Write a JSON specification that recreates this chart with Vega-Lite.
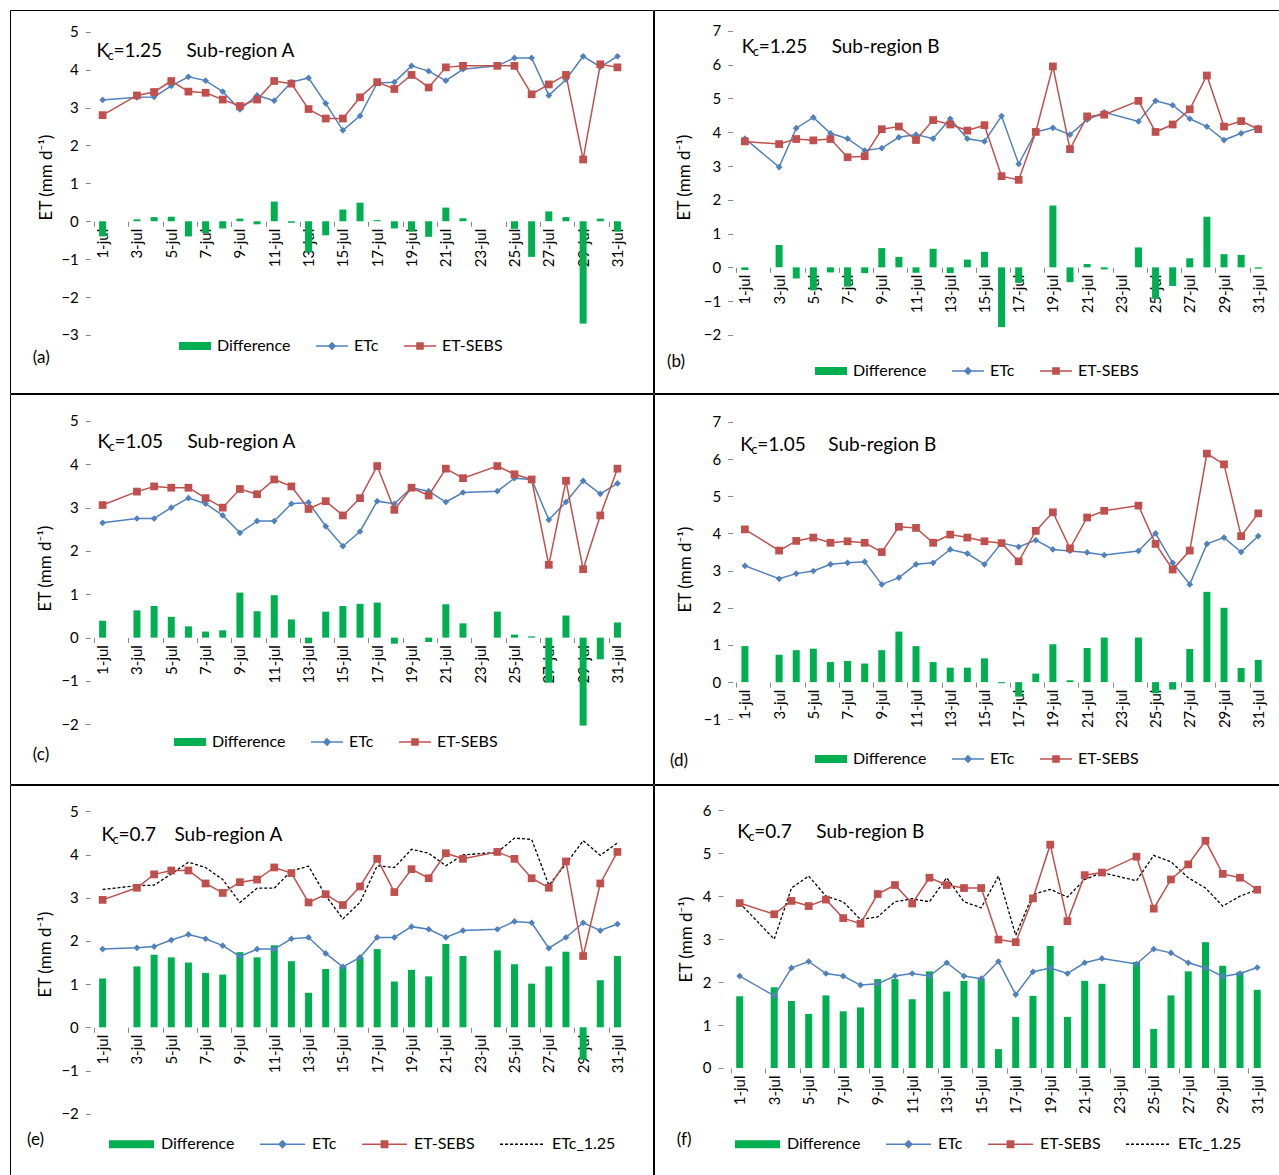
{
"$schema": "https://vega.github.io/schema/vega-lite/v6.json",
"padding": {"left": 9, "top": 9, "right": 0, "bottom": 0},
"background": "white",
"datasets": {
"a": [{"d":1,"etc":3.2,"sebs":2.8,"dif":-0.4},{"d":3,"etc":3.27,"sebs":3.32,"dif":0.05},{"d":4,"etc":3.28,"sebs":3.41,"dif":0.11},{"d":5,"etc":3.57,"sebs":3.7,"dif":0.12},{"d":6,"etc":3.81,"sebs":3.42,"dif":-0.4},{"d":7,"etc":3.71,"sebs":3.39,"dif":-0.31},{"d":8,"etc":3.42,"sebs":3.21,"dif":-0.19},{"d":9,"etc":2.95,"sebs":3.04,"dif":0.07},{"d":10,"etc":3.32,"sebs":3.21,"dif":-0.08},{"d":11,"etc":3.18,"sebs":3.7,"dif":0.52},{"d":12,"etc":3.67,"sebs":3.63,"dif":-0.04},{"d":13,"etc":3.78,"sebs":2.96,"dif":-0.82},{"d":14,"etc":3.11,"sebs":2.71,"dif":-0.37},{"d":15,"etc":2.4,"sebs":2.71,"dif":0.31},{"d":16,"etc":2.78,"sebs":3.27,"dif":0.49},{"d":17,"etc":3.65,"sebs":3.67,"dif":0.03},{"d":18,"etc":3.67,"sebs":3.49,"dif":-0.19},{"d":19,"etc":4.1,"sebs":3.86,"dif":-0.27},{"d":20,"etc":3.96,"sebs":3.53,"dif":-0.41},{"d":21,"etc":3.71,"sebs":4.06,"dif":0.36},{"d":22,"etc":4.01,"sebs":4.1,"dif":0.08},{"d":24,"etc":4.1,"sebs":4.1,"dif":0},{"d":25,"etc":4.31,"sebs":4.1,"dif":-0.2},{"d":26,"etc":4.31,"sebs":3.35,"dif":-0.94},{"d":27,"etc":3.32,"sebs":3.61,"dif":0.26},{"d":28,"etc":3.74,"sebs":3.86,"dif":0.11},{"d":29,"etc":4.35,"sebs":1.63,"dif":-2.7},{"d":30,"etc":4.07,"sebs":4.14,"dif":0.07},{"d":31,"etc":4.35,"sebs":4.06,"dif":-0.27}],
"b": [{"d":1,"etc":3.81,"sebs":3.73,"dif":-0.08},{"d":3,"etc":2.97,"sebs":3.65,"dif":0.66},{"d":4,"etc":4.12,"sebs":3.8,"dif":-0.33},{"d":5,"etc":4.44,"sebs":3.76,"dif":-0.68},{"d":6,"etc":3.97,"sebs":3.8,"dif":-0.15},{"d":7,"etc":3.81,"sebs":3.26,"dif":-0.57},{"d":8,"etc":3.46,"sebs":3.29,"dif":-0.17},{"d":9,"etc":3.53,"sebs":4.09,"dif":0.57},{"d":10,"etc":3.85,"sebs":4.17,"dif":0.31},{"d":11,"etc":3.93,"sebs":3.77,"dif":-0.16},{"d":12,"etc":3.81,"sebs":4.36,"dif":0.55},{"d":13,"etc":4.4,"sebs":4.23,"dif":-0.17},{"d":14,"etc":3.81,"sebs":4.05,"dif":0.23},{"d":15,"etc":3.73,"sebs":4.21,"dif":0.46},{"d":16,"etc":4.48,"sebs":2.7,"dif":-1.77},{"d":17,"etc":3.06,"sebs":2.59,"dif":-0.46},{"d":18,"etc":4.01,"sebs":4.01,"dif":0},{"d":19,"etc":4.13,"sebs":5.95,"dif":1.83},{"d":20,"etc":3.93,"sebs":3.5,"dif":-0.44},{"d":21,"etc":4.37,"sebs":4.47,"dif":0.1},{"d":22,"etc":4.59,"sebs":4.52,"dif":-0.06},{"d":24,"etc":4.32,"sebs":4.93,"dif":0.59},{"d":25,"etc":4.93,"sebs":4.01,"dif":-0.93},{"d":26,"etc":4.8,"sebs":4.23,"dif":-0.55},{"d":27,"etc":4.4,"sebs":4.68,"dif":0.27},{"d":28,"etc":4.17,"sebs":5.68,"dif":1.5},{"d":29,"etc":3.77,"sebs":4.17,"dif":0.39},{"d":30,"etc":3.97,"sebs":4.33,"dif":0.37},{"d":31,"etc":4.13,"sebs":4.09,"dif":-0.04}],
"c": [{"d":1,"etc":2.65,"sebs":3.06,"dif":0.39},{"d":3,"etc":2.75,"sebs":3.37,"dif":0.63},{"d":4,"etc":2.75,"sebs":3.49,"dif":0.73},{"d":5,"etc":3.0,"sebs":3.46,"dif":0.48},{"d":6,"etc":3.22,"sebs":3.46,"dif":0.26},{"d":7,"etc":3.09,"sebs":3.22,"dif":0.14},{"d":8,"etc":2.82,"sebs":3.0,"dif":0.17},{"d":9,"etc":2.42,"sebs":3.43,"dif":1.04},{"d":10,"etc":2.69,"sebs":3.31,"dif":0.61},{"d":11,"etc":2.69,"sebs":3.65,"dif":0.98},{"d":12,"etc":3.09,"sebs":3.49,"dif":0.42},{"d":13,"etc":3.12,"sebs":2.97,"dif":-0.13},{"d":14,"etc":2.57,"sebs":3.15,"dif":0.6},{"d":15,"etc":2.11,"sebs":2.82,"dif":0.73},{"d":16,"etc":2.45,"sebs":3.22,"dif":0.78},{"d":17,"etc":3.15,"sebs":3.96,"dif":0.81},{"d":18,"etc":3.09,"sebs":2.95,"dif":-0.14},{"d":19,"etc":3.46,"sebs":3.46,"dif":0},{"d":20,"etc":3.38,"sebs":3.28,"dif":-0.1},{"d":21,"etc":3.13,"sebs":3.9,"dif":0.77},{"d":22,"etc":3.35,"sebs":3.68,"dif":0.33},{"d":24,"etc":3.38,"sebs":3.96,"dif":0.6},{"d":25,"etc":3.68,"sebs":3.77,"dif":0.07},{"d":26,"etc":3.65,"sebs":3.65,"dif":0.03},{"d":27,"etc":2.72,"sebs":1.68,"dif":-1.04},{"d":28,"etc":3.13,"sebs":3.62,"dif":0.51},{"d":29,"etc":3.62,"sebs":1.58,"dif":-2.03},{"d":30,"etc":3.32,"sebs":2.82,"dif":-0.5},{"d":31,"etc":3.56,"sebs":3.9,"dif":0.35}],
"dd": [{"d":1,"etc":3.13,"sebs":4.11,"dif":0.97},{"d":3,"etc":2.78,"sebs":3.54,"dif":0.74},{"d":4,"etc":2.92,"sebs":3.8,"dif":0.86},{"d":5,"etc":2.99,"sebs":3.89,"dif":0.9},{"d":6,"etc":3.17,"sebs":3.75,"dif":0.54},{"d":7,"etc":3.21,"sebs":3.79,"dif":0.57},{"d":8,"etc":3.24,"sebs":3.75,"dif":0.5},{"d":9,"etc":2.63,"sebs":3.5,"dif":0.86},{"d":10,"etc":2.81,"sebs":4.18,"dif":1.36},{"d":11,"etc":3.17,"sebs":4.15,"dif":0.97},{"d":12,"etc":3.21,"sebs":3.75,"dif":0.54},{"d":13,"etc":3.57,"sebs":3.97,"dif":0.39},{"d":14,"etc":3.46,"sebs":3.89,"dif":0.39},{"d":15,"etc":3.17,"sebs":3.79,"dif":0.64},{"d":16,"etc":3.74,"sebs":3.74,"dif":-0.03},{"d":17,"etc":3.64,"sebs":3.25,"dif":-0.39},{"d":18,"etc":3.82,"sebs":4.07,"dif":0.23},{"d":19,"etc":3.57,"sebs":4.57,"dif":1.02},{"d":20,"etc":3.53,"sebs":3.6,"dif":0.05},{"d":21,"etc":3.49,"sebs":4.43,"dif":0.92},{"d":22,"etc":3.42,"sebs":4.61,"dif":1.2},{"d":24,"etc":3.53,"sebs":4.75,"dif":1.2},{"d":25,"etc":4.0,"sebs":3.72,"dif":-0.3},{"d":26,"etc":3.21,"sebs":3.03,"dif":-0.2},{"d":27,"etc":2.63,"sebs":3.54,"dif":0.89},{"d":28,"etc":3.72,"sebs":6.15,"dif":2.43},{"d":29,"etc":3.89,"sebs":5.86,"dif":2.0},{"d":30,"etc":3.5,"sebs":3.93,"dif":0.38},{"d":31,"etc":3.93,"sebs":4.54,"dif":0.6}],
"e": [{"d":1,"etc":1.81,"sebs":2.95,"dif":1.13,"k":3.19},{"d":3,"etc":1.84,"sebs":3.23,"dif":1.41,"k":3.28},{"d":4,"etc":1.87,"sebs":3.54,"dif":1.68,"k":3.29},{"d":5,"etc":2.02,"sebs":3.63,"dif":1.62,"k":3.55},{"d":6,"etc":2.15,"sebs":3.63,"dif":1.5,"k":3.82},{"d":7,"etc":2.05,"sebs":3.33,"dif":1.26,"k":3.7},{"d":8,"etc":1.89,"sebs":3.11,"dif":1.22,"k":3.42},{"d":9,"etc":1.64,"sebs":3.36,"dif":1.74,"k":2.89},{"d":10,"etc":1.81,"sebs":3.42,"dif":1.62,"k":3.22},{"d":11,"etc":1.81,"sebs":3.7,"dif":1.9,"k":3.22},{"d":12,"etc":2.05,"sebs":3.57,"dif":1.53,"k":3.62},{"d":13,"etc":2.08,"sebs":2.89,"dif":0.8,"k":3.73},{"d":14,"etc":1.71,"sebs":3.08,"dif":1.35,"k":3.05},{"d":15,"etc":1.4,"sebs":2.83,"dif":1.41,"k":2.51},{"d":16,"etc":1.62,"sebs":3.26,"dif":1.62,"k":2.89},{"d":17,"etc":2.08,"sebs":3.9,"dif":1.81,"k":3.74},{"d":18,"etc":2.08,"sebs":3.13,"dif":1.06,"k":3.7},{"d":19,"etc":2.33,"sebs":3.66,"dif":1.33,"k":4.12},{"d":20,"etc":2.27,"sebs":3.45,"dif":1.18,"k":4.03},{"d":21,"etc":2.08,"sebs":4.03,"dif":1.93,"k":3.74},{"d":22,"etc":2.24,"sebs":3.9,"dif":1.65,"k":3.99},{"d":24,"etc":2.27,"sebs":4.06,"dif":1.78,"k":4.05},{"d":25,"etc":2.45,"sebs":3.9,"dif":1.46,"k":4.38},{"d":26,"etc":2.42,"sebs":3.45,"dif":1.01,"k":4.35},{"d":27,"etc":1.83,"sebs":3.23,"dif":1.41,"k":3.29},{"d":28,"etc":2.08,"sebs":3.84,"dif":1.75,"k":3.78},{"d":29,"etc":2.42,"sebs":1.65,"dif":-0.75,"k":4.32},{"d":30,"etc":2.24,"sebs":3.33,"dif":1.09,"k":3.98},{"d":31,"etc":2.39,"sebs":4.06,"dif":1.65,"k":4.27}],
"f": [{"d":1,"etc":2.14,"sebs":3.84,"dif":1.67,"k":3.84},{"d":3,"etc":1.68,"sebs":3.58,"dif":1.88,"k":3.0},{"d":4,"etc":2.33,"sebs":3.89,"dif":1.56,"k":4.19},{"d":5,"etc":2.48,"sebs":3.77,"dif":1.26,"k":4.47},{"d":6,"etc":2.2,"sebs":3.92,"dif":1.69,"k":4.0},{"d":7,"etc":2.14,"sebs":3.49,"dif":1.32,"k":3.87},{"d":8,"etc":1.93,"sebs":3.36,"dif":1.41,"k":3.46},{"d":9,"etc":1.96,"sebs":4.05,"dif":2.07,"k":3.52},{"d":10,"etc":2.14,"sebs":4.26,"dif":2.07,"k":3.87},{"d":11,"etc":2.2,"sebs":3.83,"dif":1.6,"k":3.94},{"d":12,"etc":2.14,"sebs":4.43,"dif":2.25,"k":3.87},{"d":13,"etc":2.45,"sebs":4.26,"dif":1.78,"k":4.43},{"d":14,"etc":2.14,"sebs":4.19,"dif":2.03,"k":3.87},{"d":15,"etc":2.08,"sebs":4.19,"dif":2.09,"k":3.73},{"d":16,"etc":2.48,"sebs":2.99,"dif":0.44,"k":4.47},{"d":17,"etc":1.71,"sebs":2.93,"dif":1.19,"k":3.09},{"d":18,"etc":2.24,"sebs":3.95,"dif":1.68,"k":4.04},{"d":19,"etc":2.33,"sebs":5.2,"dif":2.84,"k":4.16},{"d":20,"etc":2.2,"sebs":3.42,"dif":1.19,"k":3.98},{"d":21,"etc":2.45,"sebs":4.49,"dif":2.03,"k":4.39},{"d":22,"etc":2.55,"sebs":4.55,"dif":1.96,"k":4.55},{"d":24,"etc":2.42,"sebs":4.92,"dif":2.47,"k":4.36},{"d":25,"etc":2.77,"sebs":3.71,"dif":0.91,"k":4.95},{"d":26,"etc":2.68,"sebs":4.39,"dif":1.69,"k":4.8},{"d":27,"etc":2.45,"sebs":4.74,"dif":2.25,"k":4.43},{"d":28,"etc":2.33,"sebs":5.29,"dif":2.93,"k":4.19},{"d":29,"etc":2.13,"sebs":4.52,"dif":2.38,"k":3.77},{"d":30,"etc":2.2,"sebs":4.43,"dif":2.24,"k":4.0},{"d":31,"etc":2.34,"sebs":4.15,"dif":1.82,"k":4.15}]
},
"spacing": -3,
"resolve": {"scale": {"color": "independent"}, "legend": {"color": "independent"}},
"vconcat": [
{"hconcat": [
{"width": 643, "height": 383, "data": {"name": "a"},
 "transform": [{"fold": ["dif","etc","sebs"], "as": ["s","v"]}],
 "encoding": {
  "x": {"field": "d", "type": "quantitative", "scale": {"domain": [-4.106, 32.78], "nice": false, "zero": false},
        "axis": {"orient": "bottom", "offset": -171.7, "values": [1,3,5,7,9,11,13,15,17,19,21,23,25,27,29,31], "labelExpr": "datum.value + '-jul'", "labelAngle": -90, "tickOffset": -8.7, "labelOffset": 8.7, "tickSize": 5, "labelPadding": 2, "title": null}},
  "y": {"field": "v", "type": "quantitative", "scale": {"domain": [-4.53, 5.573], "nice": false, "zero": false},
        "axis": {"orient": "left", "offset": -80.3, "values": [-3,-2,-1,0,1,2,3,4,5], "tickSize": 5, "labelPadding": 7, "title": "ET (mm d⁻¹)", "titleX": -44, "titleY": 167, "titleAngle": 270, "titleAlign": "center", "titleBaseline": "middle"}}
 },
 "layer": [
  {"transform": [{"filter": "datum.s === 'dif'"}], "mark": {"type": "bar", "size": 7},
   "encoding": {"color": {"datum": "Difference", "type": "nominal", "scale": {"domain": ["Difference","ETc","ET-SEBS"], "range": ["#00B050","#4F81BD","#C0504D"]},
     "legend": {"orient": "none", "legendX": 168, "legendY": 319, "direction": "horizontal", "title": null, "symbolSize": 1024, "labelOffset": 5, "columnPadding": 22,
       "encode": {"symbols": {"update": {
         "shape": {"signal": "datum.value === 'Difference' ? 'M-1,-0.25H1V0.25H-1Z' : datum.value === 'ETc' ? 'M-1,0H1M0,-0.2L0.2,0L0,0.2L-0.2,0Z' : datum.value === 'ET-SEBS' ? 'M-1,0H1M-0.19,-0.19H0.19V0.19H-0.19Z' : 'M-1,0H1'"},
         "fill": {"signal": "datum.value === 'Difference' ? '#00B050' : datum.value === 'ETc' ? '#4F81BD' : datum.value === 'ET-SEBS' ? '#C0504D' : 'transparent'"},
         "stroke": {"signal": "datum.value === 'Difference' ? 'transparent' : datum.value === 'ETc' ? '#4F81BD' : datum.value === 'ET-SEBS' ? '#C0504D' : '#000000'"},
         "strokeWidth": {"value": 1.5},
         "strokeDash": {"signal": "datum.value === 'ETc_1.25' ? [3,2] : [1,0]"},
         "opacity": {"value": 1}}}}}}}},
  {"data": {"values": [{}]}, "mark": {"type": "rule", "color": "#868686", "strokeWidth": 1.2}, "encoding": {"x": {"datum": 0.5}, "x2": {"datum": 31.5}, "y": {"datum": 0}}},
  {"data": {"values": [{}]}, "mark": {"type": "rule", "color": "#868686", "strokeWidth": 1.2}, "encoding": {"x": {"datum": 0.5}, "y": {"datum": -3}, "y2": {"datum": 5}}},
  {"transform": [{"filter": "datum.s === 'etc'"}], "mark": {"type": "line", "color": "#4F81BD", "strokeWidth": 1.5}, "encoding": {}},
  {"transform": [{"filter": "datum.s === 'etc'"}], "mark": {"type": "point", "shape": "diamond", "filled": true, "size": 45, "color": "#4F81BD", "opacity": 1}, "encoding": {}},
  {"transform": [{"filter": "datum.s === 'sebs'"}], "mark": {"type": "line", "color": "#C0504D", "strokeWidth": 1.5}, "encoding": {}},
  {"transform": [{"filter": "datum.s === 'sebs'"}], "mark": {"type": "point", "shape": "square", "filled": true, "size": 60, "color": "#C0504D", "opacity": 1}, "encoding": {}},
  {"transform": [{"filter": "datum.s === 'etc' && datum.d === 1"}], "mark": {"type": "text", "align": "left", "fontSize": 19, "color": "#000000"}, "encoding": {"x": {"datum": 0.64}, "y": {"datum": 4.5}, "text": {"value": "K"}}},
  {"transform": [{"filter": "datum.s === 'etc' && datum.d === 1"}], "mark": {"type": "text", "align": "left", "fontSize": 13, "dx": 11, "dy": 5, "color": "#000000"}, "encoding": {"x": {"datum": 0.64}, "y": {"datum": 4.5}, "text": {"value": "c"}}},
  {"transform": [{"filter": "datum.s === 'etc' && datum.d === 1"}], "mark": {"type": "text", "align": "left", "fontSize": 19, "dx": 17, "color": "#000000"}, "encoding": {"x": {"datum": 0.64}, "y": {"datum": 4.5}, "text": {"value": "=1.25"}}},
  {"transform": [{"filter": "datum.s === 'etc' && datum.d === 1"}], "mark": {"type": "text", "align": "left", "fontSize": 19, "dx": 90, "color": "#000000"}, "encoding": {"x": {"datum": 0.64}, "y": {"datum": 4.5}, "text": {"value": "Sub-region A"}}},
  {"transform": [{"filter": "datum.s === 'etc' && datum.d === 1"}], "mark": {"type": "text", "align": "left", "fontSize": 17, "color": "#000000"}, "encoding": {"x": {"datum": -3.07}, "y": {"datum": -3.6}, "text": {"value": "(a)"}}}
 ]},
{"width": 626, "height": 383, "data": {"name": "b"},
 "transform": [{"fold": ["dif","etc","sebs"], "as": ["s","v"]}],
 "encoding": {
  "x": {"field": "d", "type": "quantitative", "scale": {"domain": [-4.02, 31.98], "nice": false, "zero": false},
        "axis": {"orient": "bottom", "offset": -125.7, "values": [1,3,5,7,9,11,13,15,17,19,21,23,25,27,29,31], "labelExpr": "datum.value + '-jul'", "labelAngle": -90, "tickOffset": -8.7, "labelOffset": 8.7, "tickSize": 5, "labelPadding": 2, "title": null}},
  "y": {"field": "v", "type": "quantitative", "scale": {"domain": [-3.72, 7.62], "nice": false, "zero": false},
        "axis": {"orient": "left", "offset": -78.6, "values": [-2,-1,0,1,2,3,4,5,6,7], "tickSize": 5, "labelPadding": 7, "title": "ET (mm d⁻¹)", "titleX": -48, "titleY": 167, "titleAngle": 270, "titleAlign": "center", "titleBaseline": "middle"}}
 },
 "layer": [
  {"transform": [{"filter": "datum.s === 'dif'"}], "mark": {"type": "bar", "size": 7},
   "encoding": {"color": {"datum": "Difference", "type": "nominal", "scale": {"domain": ["Difference","ETc","ET-SEBS"], "range": ["#00B050","#4F81BD","#C0504D"]},
     "legend": {"orient": "none", "legendX": 160, "legendY": 344, "direction": "horizontal", "title": null, "symbolSize": 1024, "labelOffset": 5, "columnPadding": 22,
       "encode": {"symbols": {"update": {
         "shape": {"signal": "datum.value === 'Difference' ? 'M-1,-0.25H1V0.25H-1Z' : datum.value === 'ETc' ? 'M-1,0H1M0,-0.2L0.2,0L0,0.2L-0.2,0Z' : datum.value === 'ET-SEBS' ? 'M-1,0H1M-0.19,-0.19H0.19V0.19H-0.19Z' : 'M-1,0H1'"},
         "fill": {"signal": "datum.value === 'Difference' ? '#00B050' : datum.value === 'ETc' ? '#4F81BD' : datum.value === 'ET-SEBS' ? '#C0504D' : 'transparent'"},
         "stroke": {"signal": "datum.value === 'Difference' ? 'transparent' : datum.value === 'ETc' ? '#4F81BD' : datum.value === 'ET-SEBS' ? '#C0504D' : '#000000'"},
         "strokeWidth": {"value": 1.5},
         "strokeDash": {"signal": "datum.value === 'ETc_1.25' ? [3,2] : [1,0]"},
         "opacity": {"value": 1}}}}}}}},
  {"data": {"values": [{}]}, "mark": {"type": "rule", "color": "#868686", "strokeWidth": 1.2}, "encoding": {"x": {"datum": 0.5}, "x2": {"datum": 31.5}, "y": {"datum": 0}}},
  {"data": {"values": [{}]}, "mark": {"type": "rule", "color": "#868686", "strokeWidth": 1.2}, "encoding": {"x": {"datum": 0.5}, "y": {"datum": -2}, "y2": {"datum": 7}}},
  {"transform": [{"filter": "datum.s === 'etc'"}], "mark": {"type": "line", "color": "#4F81BD", "strokeWidth": 1.5}, "encoding": {}},
  {"transform": [{"filter": "datum.s === 'etc'"}], "mark": {"type": "point", "shape": "diamond", "filled": true, "size": 45, "color": "#4F81BD", "opacity": 1}, "encoding": {}},
  {"transform": [{"filter": "datum.s === 'sebs'"}], "mark": {"type": "line", "color": "#C0504D", "strokeWidth": 1.5}, "encoding": {}},
  {"transform": [{"filter": "datum.s === 'sebs'"}], "mark": {"type": "point", "shape": "square", "filled": true, "size": 60, "color": "#C0504D", "opacity": 1}, "encoding": {}},
  {"transform": [{"filter": "datum.s === 'etc' && datum.d === 1"}], "mark": {"type": "text", "align": "left", "fontSize": 19, "color": "#000000"}, "encoding": {"x": {"datum": 0.81}, "y": {"datum": 6.53}, "text": {"value": "K"}}},
  {"transform": [{"filter": "datum.s === 'etc' && datum.d === 1"}], "mark": {"type": "text", "align": "left", "fontSize": 13, "dx": 11, "dy": 5, "color": "#000000"}, "encoding": {"x": {"datum": 0.81}, "y": {"datum": 6.53}, "text": {"value": "c"}}},
  {"transform": [{"filter": "datum.s === 'etc' && datum.d === 1"}], "mark": {"type": "text", "align": "left", "fontSize": 19, "dx": 17, "color": "#000000"}, "encoding": {"x": {"datum": 0.81}, "y": {"datum": 6.53}, "text": {"value": "=1.25"}}},
  {"transform": [{"filter": "datum.s === 'etc' && datum.d === 1"}], "mark": {"type": "text", "align": "left", "fontSize": 19, "dx": 90, "color": "#000000"}, "encoding": {"x": {"datum": 0.81}, "y": {"datum": 6.53}, "text": {"value": "Sub-region B"}}},
  {"transform": [{"filter": "datum.s === 'etc' && datum.d === 1"}], "mark": {"type": "text", "align": "left", "fontSize": 17, "color": "#000000"}, "encoding": {"x": {"datum": -3.55}, "y": {"datum": -2.8}, "text": {"value": "(b)"}}}
 ]}
], "spacing": -3, "resolve": {"scale": {"color": "independent"}, "legend": {"color": "independent"}}},
{"hconcat": [
{"width": 643, "height": 390, "data": {"name": "c"},
 "transform": [{"fold": ["dif","etc","sebs"], "as": ["s","v"]}],
 "encoding": {
  "x": {"field": "d", "type": "quantitative", "scale": {"domain": [-4.106, 32.78], "nice": false, "zero": false},
        "axis": {"orient": "bottom", "offset": -146.4, "values": [1,3,5,7,9,11,13,15,17,19,21,23,25,27,29,31], "labelExpr": "datum.value + '-jul'", "labelAngle": -90, "tickOffset": -8.7, "labelOffset": 8.7, "tickSize": 5, "labelPadding": 2, "title": null}},
  "y": {"field": "v", "type": "quantitative", "scale": {"domain": [-3.378, 5.623], "nice": false, "zero": false},
        "axis": {"orient": "left", "offset": -80.3, "values": [-2,-1,0,1,2,3,4,5], "tickSize": 5, "labelPadding": 7, "title": "ET (mm d⁻¹)", "titleX": -45, "titleY": 174, "titleAngle": 270, "titleAlign": "center", "titleBaseline": "middle"}}
 },
 "layer": [
  {"transform": [{"filter": "datum.s === 'dif'"}], "mark": {"type": "bar", "size": 7},
   "encoding": {"color": {"datum": "Difference", "type": "nominal", "scale": {"domain": ["Difference","ETc","ET-SEBS"], "range": ["#00B050","#4F81BD","#C0504D"]},
     "legend": {"orient": "none", "legendX": 163, "legendY": 331, "direction": "horizontal", "title": null, "symbolSize": 1024, "labelOffset": 5, "columnPadding": 22,
       "encode": {"symbols": {"update": {
         "shape": {"signal": "datum.value === 'Difference' ? 'M-1,-0.25H1V0.25H-1Z' : datum.value === 'ETc' ? 'M-1,0H1M0,-0.2L0.2,0L0,0.2L-0.2,0Z' : datum.value === 'ET-SEBS' ? 'M-1,0H1M-0.19,-0.19H0.19V0.19H-0.19Z' : 'M-1,0H1'"},
         "fill": {"signal": "datum.value === 'Difference' ? '#00B050' : datum.value === 'ETc' ? '#4F81BD' : datum.value === 'ET-SEBS' ? '#C0504D' : 'transparent'"},
         "stroke": {"signal": "datum.value === 'Difference' ? 'transparent' : datum.value === 'ETc' ? '#4F81BD' : datum.value === 'ET-SEBS' ? '#C0504D' : '#000000'"},
         "strokeWidth": {"value": 1.5},
         "strokeDash": {"signal": "datum.value === 'ETc_1.25' ? [3,2] : [1,0]"},
         "opacity": {"value": 1}}}}}}}},
  {"data": {"values": [{}]}, "mark": {"type": "rule", "color": "#868686", "strokeWidth": 1.2}, "encoding": {"x": {"datum": 0.5}, "x2": {"datum": 31.5}, "y": {"datum": 0}}},
  {"data": {"values": [{}]}, "mark": {"type": "rule", "color": "#868686", "strokeWidth": 1.2}, "encoding": {"x": {"datum": 0.5}, "y": {"datum": -2}, "y2": {"datum": 5}}},
  {"transform": [{"filter": "datum.s === 'etc'"}], "mark": {"type": "line", "color": "#4F81BD", "strokeWidth": 1.5}, "encoding": {}},
  {"transform": [{"filter": "datum.s === 'etc'"}], "mark": {"type": "point", "shape": "diamond", "filled": true, "size": 45, "color": "#4F81BD", "opacity": 1}, "encoding": {}},
  {"transform": [{"filter": "datum.s === 'sebs'"}], "mark": {"type": "line", "color": "#C0504D", "strokeWidth": 1.5}, "encoding": {}},
  {"transform": [{"filter": "datum.s === 'sebs'"}], "mark": {"type": "point", "shape": "square", "filled": true, "size": 60, "color": "#C0504D", "opacity": 1}, "encoding": {}},
  {"transform": [{"filter": "datum.s === 'etc' && datum.d === 1"}], "mark": {"type": "text", "align": "left", "fontSize": 19, "color": "#000000"}, "encoding": {"x": {"datum": 0.7}, "y": {"datum": 4.51}, "text": {"value": "K"}}},
  {"transform": [{"filter": "datum.s === 'etc' && datum.d === 1"}], "mark": {"type": "text", "align": "left", "fontSize": 13, "dx": 11, "dy": 5, "color": "#000000"}, "encoding": {"x": {"datum": 0.7}, "y": {"datum": 4.51}, "text": {"value": "c"}}},
  {"transform": [{"filter": "datum.s === 'etc' && datum.d === 1"}], "mark": {"type": "text", "align": "left", "fontSize": 19, "dx": 17, "color": "#000000"}, "encoding": {"x": {"datum": 0.7}, "y": {"datum": 4.51}, "text": {"value": "=1.05"}}},
  {"transform": [{"filter": "datum.s === 'etc' && datum.d === 1"}], "mark": {"type": "text", "align": "left", "fontSize": 19, "dx": 90, "color": "#000000"}, "encoding": {"x": {"datum": 0.7}, "y": {"datum": 4.51}, "text": {"value": "Sub-region A"}}},
  {"transform": [{"filter": "datum.s === 'etc' && datum.d === 1"}], "mark": {"type": "text", "align": "left", "fontSize": 17, "color": "#000000"}, "encoding": {"x": {"datum": -3.07}, "y": {"datum": -2.72}, "text": {"value": "(c)"}}}
 ]},
{"width": 626, "height": 390, "data": {"name": "dd"},
 "transform": [{"fold": ["dif","etc","sebs"], "as": ["s","v"]}],
 "encoding": {
  "x": {"field": "d", "type": "quantitative", "scale": {"domain": [-4.02, 31.98], "nice": false, "zero": false},
        "axis": {"orient": "bottom", "offset": -101.9, "values": [1,3,5,7,9,11,13,15,17,19,21,23,25,27,29,31], "labelExpr": "datum.value + '-jul'", "labelAngle": -90, "tickOffset": -8.7, "labelOffset": 8.7, "tickSize": 5, "labelPadding": 2, "title": null}},
  "y": {"field": "v", "type": "quantitative", "scale": {"domain": [-2.741, 7.753], "nice": false, "zero": false},
        "axis": {"orient": "left", "offset": -78.6, "values": [-1,0,1,2,3,4,5,6,7], "tickSize": 5, "labelPadding": 7, "title": "ET (mm d⁻¹)", "titleX": -47, "titleY": 175, "titleAngle": 270, "titleAlign": "center", "titleBaseline": "middle"}}
 },
 "layer": [
  {"transform": [{"filter": "datum.s === 'dif'"}], "mark": {"type": "bar", "size": 7},
   "encoding": {"color": {"datum": "Difference", "type": "nominal", "scale": {"domain": ["Difference","ETc","ET-SEBS"], "range": ["#00B050","#4F81BD","#C0504D"]},
     "legend": {"orient": "none", "legendX": 160, "legendY": 348, "direction": "horizontal", "title": null, "symbolSize": 1024, "labelOffset": 5, "columnPadding": 22,
       "encode": {"symbols": {"update": {
         "shape": {"signal": "datum.value === 'Difference' ? 'M-1,-0.25H1V0.25H-1Z' : datum.value === 'ETc' ? 'M-1,0H1M0,-0.2L0.2,0L0,0.2L-0.2,0Z' : datum.value === 'ET-SEBS' ? 'M-1,0H1M-0.19,-0.19H0.19V0.19H-0.19Z' : 'M-1,0H1'"},
         "fill": {"signal": "datum.value === 'Difference' ? '#00B050' : datum.value === 'ETc' ? '#4F81BD' : datum.value === 'ET-SEBS' ? '#C0504D' : 'transparent'"},
         "stroke": {"signal": "datum.value === 'Difference' ? 'transparent' : datum.value === 'ETc' ? '#4F81BD' : datum.value === 'ET-SEBS' ? '#C0504D' : '#000000'"},
         "strokeWidth": {"value": 1.5},
         "strokeDash": {"signal": "datum.value === 'ETc_1.25' ? [3,2] : [1,0]"},
         "opacity": {"value": 1}}}}}}}},
  {"data": {"values": [{}]}, "mark": {"type": "rule", "color": "#868686", "strokeWidth": 1.2}, "encoding": {"x": {"datum": 0.5}, "x2": {"datum": 31.5}, "y": {"datum": 0}}},
  {"data": {"values": [{}]}, "mark": {"type": "rule", "color": "#868686", "strokeWidth": 1.2}, "encoding": {"x": {"datum": 0.5}, "y": {"datum": -1}, "y2": {"datum": 7}}},
  {"transform": [{"filter": "datum.s === 'etc'"}], "mark": {"type": "line", "color": "#4F81BD", "strokeWidth": 1.5}, "encoding": {}},
  {"transform": [{"filter": "datum.s === 'etc'"}], "mark": {"type": "point", "shape": "diamond", "filled": true, "size": 45, "color": "#4F81BD", "opacity": 1}, "encoding": {}},
  {"transform": [{"filter": "datum.s === 'sebs'"}], "mark": {"type": "line", "color": "#C0504D", "strokeWidth": 1.5}, "encoding": {}},
  {"transform": [{"filter": "datum.s === 'sebs'"}], "mark": {"type": "point", "shape": "square", "filled": true, "size": 60, "color": "#C0504D", "opacity": 1}, "encoding": {}},
  {"transform": [{"filter": "datum.s === 'etc' && datum.d === 1"}], "mark": {"type": "text", "align": "left", "fontSize": 19, "color": "#000000"}, "encoding": {"x": {"datum": 0.73}, "y": {"datum": 6.37}, "text": {"value": "K"}}},
  {"transform": [{"filter": "datum.s === 'etc' && datum.d === 1"}], "mark": {"type": "text", "align": "left", "fontSize": 13, "dx": 11, "dy": 5, "color": "#000000"}, "encoding": {"x": {"datum": 0.73}, "y": {"datum": 6.37}, "text": {"value": "c"}}},
  {"transform": [{"filter": "datum.s === 'etc' && datum.d === 1"}], "mark": {"type": "text", "align": "left", "fontSize": 19, "dx": 17, "color": "#000000"}, "encoding": {"x": {"datum": 0.73}, "y": {"datum": 6.37}, "text": {"value": "=1.05"}}},
  {"transform": [{"filter": "datum.s === 'etc' && datum.d === 1"}], "mark": {"type": "text", "align": "left", "fontSize": 19, "dx": 88, "color": "#000000"}, "encoding": {"x": {"datum": 0.73}, "y": {"datum": 6.37}, "text": {"value": "Sub-region B"}}},
  {"transform": [{"filter": "datum.s === 'etc' && datum.d === 1"}], "mark": {"type": "text", "align": "left", "fontSize": 17, "color": "#000000"}, "encoding": {"x": {"datum": -3.38}, "y": {"datum": -2.12}, "text": {"value": "(d)"}}}
 ]}
], "spacing": -3, "resolve": {"scale": {"color": "independent"}, "legend": {"color": "independent"}}},
{"hconcat": [
{"width": 643, "height": 392, "data": {"name": "e"},
 "transform": [{"fold": ["dif","etc","sebs","k"], "as": ["s","v"]}],
 "encoding": {
  "x": {"field": "d", "type": "quantitative", "scale": {"domain": [-4.106, 32.78], "nice": false, "zero": false},
        "axis": {"orient": "bottom", "offset": -149.7, "values": [1,3,5,7,9,11,13,15,17,19,21,23,25,27,29,31], "labelExpr": "datum.value + '-jul'", "labelAngle": -90, "tickOffset": -8.7, "labelOffset": 8.7, "tickSize": 5, "labelPadding": 2, "title": null}},
  "y": {"field": "v", "type": "quantitative", "scale": {"domain": [-3.465, 5.609], "nice": false, "zero": false},
        "axis": {"orient": "left", "offset": -80.3, "values": [-2,-1,0,1,2,3,4,5], "tickSize": 5, "labelPadding": 7, "title": "ET (mm d⁻¹)", "titleX": -45, "titleY": 169, "titleAngle": 270, "titleAlign": "center", "titleBaseline": "middle"}}
 },
 "layer": [
  {"transform": [{"filter": "datum.s === 'dif'"}], "mark": {"type": "bar", "size": 7},
   "encoding": {"color": {"datum": "Difference", "type": "nominal", "scale": {"domain": ["Difference","ETc","ET-SEBS","ETc_1.25"], "range": ["#00B050","#4F81BD","#C0504D","#000000"]},
     "legend": {"orient": "none", "legendX": 98, "legendY": 335.5, "direction": "horizontal", "title": null, "symbolSize": 2025, "labelOffset": 6, "columnPadding": 22,
       "encode": {"symbols": {"update": {
         "shape": {"signal": "datum.value === 'Difference' ? 'M-1,-0.18H1V0.18H-1Z' : datum.value === 'ETc' ? 'M-1,0H1M0,-0.15L0.15,0L0,0.15L-0.15,0Z' : datum.value === 'ET-SEBS' ? 'M-1,0H1M-0.14,-0.14H0.14V0.14H-0.14Z' : 'M-1,0H1'"},
         "fill": {"signal": "datum.value === 'Difference' ? '#00B050' : datum.value === 'ETc' ? '#4F81BD' : datum.value === 'ET-SEBS' ? '#C0504D' : 'transparent'"},
         "stroke": {"signal": "datum.value === 'Difference' ? 'transparent' : datum.value === 'ETc' ? '#4F81BD' : datum.value === 'ET-SEBS' ? '#C0504D' : '#000000'"},
         "strokeWidth": {"value": 1.5},
         "strokeDash": {"signal": "datum.value === 'ETc_1.25' ? [3,2] : [1,0]"},
         "opacity": {"value": 1}}}}}}}},
  {"data": {"values": [{}]}, "mark": {"type": "rule", "color": "#868686", "strokeWidth": 1.2}, "encoding": {"x": {"datum": 0.5}, "x2": {"datum": 31.5}, "y": {"datum": 0}}},
  {"data": {"values": [{}]}, "mark": {"type": "rule", "color": "#868686", "strokeWidth": 1.2}, "encoding": {"x": {"datum": 0.5}, "y": {"datum": -2}, "y2": {"datum": 5}}},
  {"transform": [{"filter": "datum.s === 'k'"}], "mark": {"type": "line", "color": "#000000", "strokeWidth": 1.3, "strokeDash": [3,2]}, "encoding": {}},
  {"transform": [{"filter": "datum.s === 'etc'"}], "mark": {"type": "line", "color": "#4F81BD", "strokeWidth": 1.5}, "encoding": {}},
  {"transform": [{"filter": "datum.s === 'etc'"}], "mark": {"type": "point", "shape": "diamond", "filled": true, "size": 45, "color": "#4F81BD", "opacity": 1}, "encoding": {}},
  {"transform": [{"filter": "datum.s === 'sebs'"}], "mark": {"type": "line", "color": "#C0504D", "strokeWidth": 1.5}, "encoding": {}},
  {"transform": [{"filter": "datum.s === 'sebs'"}], "mark": {"type": "point", "shape": "square", "filled": true, "size": 60, "color": "#C0504D", "opacity": 1}, "encoding": {}},
  {"transform": [{"filter": "datum.s === 'etc' && datum.d === 1"}], "mark": {"type": "text", "align": "left", "fontSize": 19, "color": "#000000"}, "encoding": {"x": {"datum": 0.93}, "y": {"datum": 4.45}, "text": {"value": "K"}}},
  {"transform": [{"filter": "datum.s === 'etc' && datum.d === 1"}], "mark": {"type": "text", "align": "left", "fontSize": 13, "dx": 11, "dy": 5, "color": "#000000"}, "encoding": {"x": {"datum": 0.93}, "y": {"datum": 4.45}, "text": {"value": "c"}}},
  {"transform": [{"filter": "datum.s === 'etc' && datum.d === 1"}], "mark": {"type": "text", "align": "left", "fontSize": 19, "dx": 17, "color": "#000000"}, "encoding": {"x": {"datum": 0.93}, "y": {"datum": 4.45}, "text": {"value": "=0.7"}}},
  {"transform": [{"filter": "datum.s === 'etc' && datum.d === 1"}], "mark": {"type": "text", "align": "left", "fontSize": 19, "dx": 73, "color": "#000000"}, "encoding": {"x": {"datum": 0.93}, "y": {"datum": 4.45}, "text": {"value": "Sub-region A"}}},
  {"transform": [{"filter": "datum.s === 'etc' && datum.d === 1"}], "mark": {"type": "text", "align": "left", "fontSize": 17, "color": "#000000"}, "encoding": {"x": {"datum": -3.41}, "y": {"datum": -2.62}, "text": {"value": "(e)"}}}
 ]},
{"width": 626, "height": 392, "data": {"name": "f"},
 "transform": [{"fold": ["dif","etc","sebs","k"], "as": ["s","v"]}],
 "encoding": {
  "x": {"field": "d", "type": "quantitative", "scale": {"domain": [-3.678, 32.03], "nice": false, "zero": false},
        "axis": {"orient": "bottom", "offset": -109, "values": [1,3,5,7,9,11,13,15,17,19,21,23,25,27,29,31], "labelExpr": "datum.value + '-jul'", "labelAngle": -90, "tickOffset": -8.77, "labelOffset": 8.77, "tickSize": 5, "labelPadding": 2, "title": null}},
  "y": {"field": "v", "type": "quantitative", "scale": {"domain": [-2.538, 6.589], "nice": false, "zero": false},
        "axis": {"orient": "left", "offset": -69, "values": [0,1,2,3,4,5,6], "tickSize": 5, "labelPadding": 7, "title": "ET (mm d⁻¹)", "titleX": -37, "titleY": 154, "titleAngle": 270, "titleAlign": "center", "titleBaseline": "middle"}}
 },
 "layer": [
  {"transform": [{"filter": "datum.s === 'dif'"}], "mark": {"type": "bar", "size": 7},
   "encoding": {"color": {"datum": "Difference", "type": "nominal", "scale": {"domain": ["Difference","ETc","ET-SEBS","ETc_1.25"], "range": ["#00B050","#4F81BD","#C0504D","#000000"]},
     "legend": {"orient": "none", "legendX": 80, "legendY": 335.5, "direction": "horizontal", "title": null, "symbolSize": 2025, "labelOffset": 6, "columnPadding": 22,
       "encode": {"symbols": {"update": {
         "shape": {"signal": "datum.value === 'Difference' ? 'M-1,-0.18H1V0.18H-1Z' : datum.value === 'ETc' ? 'M-1,0H1M0,-0.15L0.15,0L0,0.15L-0.15,0Z' : datum.value === 'ET-SEBS' ? 'M-1,0H1M-0.14,-0.14H0.14V0.14H-0.14Z' : 'M-1,0H1'"},
         "fill": {"signal": "datum.value === 'Difference' ? '#00B050' : datum.value === 'ETc' ? '#4F81BD' : datum.value === 'ET-SEBS' ? '#C0504D' : 'transparent'"},
         "stroke": {"signal": "datum.value === 'Difference' ? 'transparent' : datum.value === 'ETc' ? '#4F81BD' : datum.value === 'ET-SEBS' ? '#C0504D' : '#000000'"},
         "strokeWidth": {"value": 1.5},
         "strokeDash": {"signal": "datum.value === 'ETc_1.25' ? [3,2] : [1,0]"},
         "opacity": {"value": 1}}}}}}}},
  {"data": {"values": [{}]}, "mark": {"type": "rule", "color": "#868686", "strokeWidth": 1.2}, "encoding": {"x": {"datum": 0.26}, "x2": {"datum": 31.6}, "y": {"datum": 0}}},
  {"data": {"values": [{}]}, "mark": {"type": "rule", "color": "#868686", "strokeWidth": 1.2}, "encoding": {"x": {"datum": 0.26}, "y": {"datum": 0}, "y2": {"datum": 6}}},
  {"transform": [{"filter": "datum.s === 'k'"}], "mark": {"type": "line", "color": "#000000", "strokeWidth": 1.3, "strokeDash": [3,2]}, "encoding": {}},
  {"transform": [{"filter": "datum.s === 'etc'"}], "mark": {"type": "line", "color": "#4F81BD", "strokeWidth": 1.5}, "encoding": {}},
  {"transform": [{"filter": "datum.s === 'etc'"}], "mark": {"type": "point", "shape": "diamond", "filled": true, "size": 45, "color": "#4F81BD", "opacity": 1}, "encoding": {}},
  {"transform": [{"filter": "datum.s === 'sebs'"}], "mark": {"type": "line", "color": "#C0504D", "strokeWidth": 1.5}, "encoding": {}},
  {"transform": [{"filter": "datum.s === 'sebs'"}], "mark": {"type": "point", "shape": "square", "filled": true, "size": 60, "color": "#C0504D", "opacity": 1}, "encoding": {}},
  {"transform": [{"filter": "datum.s === 'etc' && datum.d === 1"}], "mark": {"type": "text", "align": "left", "fontSize": 19, "color": "#000000"}, "encoding": {"x": {"datum": 0.86}, "y": {"datum": 5.5}, "text": {"value": "K"}}},
  {"transform": [{"filter": "datum.s === 'etc' && datum.d === 1"}], "mark": {"type": "text", "align": "left", "fontSize": 13, "dx": 11, "dy": 5, "color": "#000000"}, "encoding": {"x": {"datum": 0.86}, "y": {"datum": 5.5}, "text": {"value": "c"}}},
  {"transform": [{"filter": "datum.s === 'etc' && datum.d === 1"}], "mark": {"type": "text", "align": "left", "fontSize": 19, "dx": 17, "color": "#000000"}, "encoding": {"x": {"datum": 0.86}, "y": {"datum": 5.5}, "text": {"value": "=0.7"}}},
  {"transform": [{"filter": "datum.s === 'etc' && datum.d === 1"}], "mark": {"type": "text", "align": "left", "fontSize": 19, "dx": 79, "color": "#000000"}, "encoding": {"x": {"datum": 0.86}, "y": {"datum": 5.5}, "text": {"value": "Sub-region B"}}},
  {"transform": [{"filter": "datum.s === 'etc' && datum.d === 1"}], "mark": {"type": "text", "align": "left", "fontSize": 17, "color": "#000000"}, "encoding": {"x": {"datum": -2.65}, "y": {"datum": -1.68}, "text": {"value": "(f)"}}}
 ]}
], "spacing": -3, "resolve": {"scale": {"color": "independent"}, "legend": {"color": "independent"}}}
],
"config": {
 "view": {"stroke": "#000000", "strokeWidth": 1},
 "font": "Lato",
 "axis": {"labelFont": "Lato", "titleFont": "Lato", "labelColor": "#000000", "titleColor": "#000000", "tickColor": "#868686", "labelFontSize": 15, "titleFontSize": 17, "titleFontWeight": "normal", "grid": false, "domain": false, "labelOverlap": false, "labelFlush": false},
 "legend": {"labelFont": "Lato", "labelFontSize": 16, "labelColor": "#000000"},
 "text": {"font": "Lato"}
}
}
